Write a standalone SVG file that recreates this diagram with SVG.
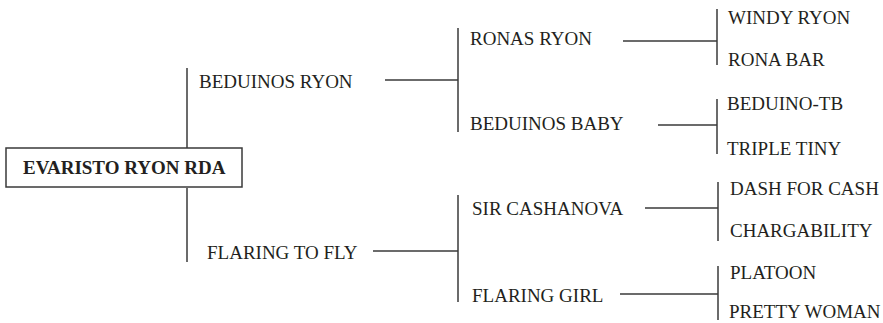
<svg xmlns="http://www.w3.org/2000/svg" width="883" height="323" viewBox="0 0 883 323">
<style>
text{font-family:"Liberation Serif","Times New Roman",serif;font-size:19px;fill:#231f20}
.b{font-weight:bold;font-size:19px}
line{stroke:#3a3a3a;stroke-width:1.5}
</style>
<rect width="883" height="323" fill="#fff"/>
<g id="connectors">
<line x1="187" y1="68" x2="187" y2="148"/>
<line x1="187" y1="188" x2="187" y2="262"/>
<line x1="385" y1="80" x2="458" y2="80"/>
<line x1="458" y1="28" x2="458" y2="132"/>
<line x1="373" y1="251" x2="458" y2="251"/>
<line x1="458" y1="195" x2="458" y2="302"/>
<line x1="623" y1="41" x2="717" y2="41"/>
<line x1="717" y1="9" x2="717" y2="65"/>
<line x1="658" y1="125" x2="717" y2="125"/>
<line x1="717" y1="99" x2="717" y2="154"/>
<line x1="645" y1="208" x2="718" y2="208"/>
<line x1="718" y1="182" x2="718" y2="241"/>
<line x1="620" y1="294" x2="718" y2="294"/>
<line x1="718" y1="266" x2="718" y2="320"/>
</g>
<g id="root">
<rect x="6" y="148" width="236" height="39" fill="#fff" stroke="#3a3a3a" stroke-width="1.5"/>
<text class="b" x="23" y="174">EVARISTO RYON RDA</text>
</g>
<g id="n-beduinos-ryon"><text x="199" y="88">BEDUINOS RYON</text></g>
<g id="n-flaring-to-fly"><text x="207" y="259">FLARING TO FLY</text></g>
<g id="n-ronas-ryon"><text x="470" y="45">RONAS RYON</text></g>
<g id="n-beduinos-baby"><text x="470" y="130">BEDUINOS BABY</text></g>
<g id="n-sir-cashanova"><text x="472" y="215">SIR CASHANOVA</text></g>
<g id="n-flaring-girl"><text x="472" y="302">FLARING GIRL</text></g>
<g id="n-windy-ryon"><text x="728" y="24">WINDY RYON</text></g>
<g id="n-rona-bar"><text x="728" y="66">RONA BAR</text></g>
<g id="n-beduino-tb"><text x="727" y="110">BEDUINO-TB</text></g>
<g id="n-triple-tiny"><text x="727" y="155">TRIPLE TINY</text></g>
<g id="n-dash-for-cash"><text x="730" y="195">DASH FOR CASH</text></g>
<g id="n-chargability"><text x="730" y="237">CHARGABILITY</text></g>
<g id="n-platoon"><text x="730" y="279">PLATOON</text></g>
<g id="n-pretty-woman"><text x="729" y="318">PRETTY WOMAN</text></g>
</svg>
